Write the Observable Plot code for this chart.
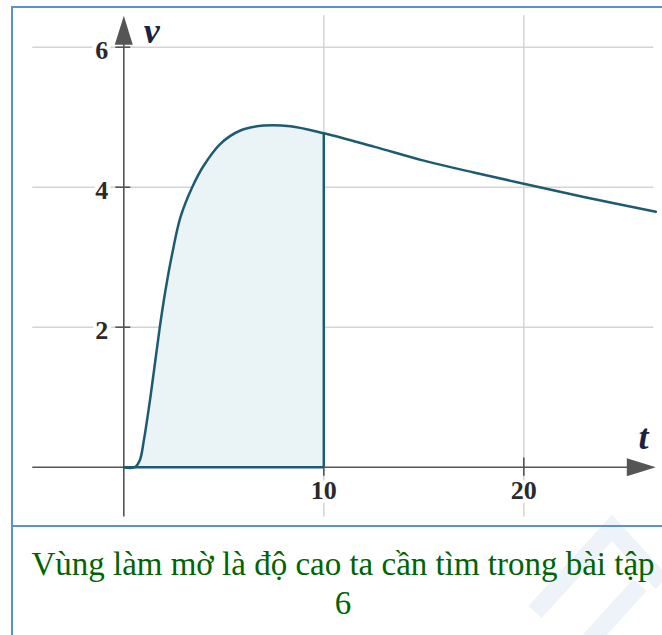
<!DOCTYPE html>
<html>
<head>
<meta charset="utf-8">
<script src="https://cdn.jsdelivr.net/npm/d3@7"></script>
<script src="https://cdn.jsdelivr.net/npm/@observablehq/plot@0.6"></script>
<style>
  body { margin: 0; background: #fff; }
  #wrap { position: relative; width: 662px; height: 635px; overflow: hidden; background: #fff; }
  #chart { position: absolute; left: 0; top: 0; }
  .frame { position: absolute; border-color: #5b8fd6; border-style: solid; border-width: 0; }
  #wm { position: absolute; left: 0; top: 0; }
  #caption { position: absolute; left: 12px; top: 545px; width: 662px; text-align: center;
    font-family: "Liberation Serif", "Times New Roman", Times, serif; font-size: 33px; line-height: 39px; color: #006400; }
</style>
</head>
<body>
<div id="wrap">
  <div id="chart"></div>
  <svg id="wm" width="662" height="635"><path d="M535,612 L612,528 L662,583 M590,640 L640,585" fill="none" stroke="#eef3fa" stroke-width="18"/></svg>
  <div class="frame" style="left:11px;top:6px;width:700px;height:700px;border-left-width:2px;border-top-width:2px;"></div>
  <div class="frame" style="left:11px;top:525px;width:700px;height:0;border-top-width:2px;"></div>
  <div id="caption">Vùng làm mờ là độ cao ta cần tìm trong bài tập<br>6</div>
</div>
<script>
// Curve v(t)
const tValues = [0, 0.55, 0.8, 1.0, 1.33, 1.8, 2.08, 2.42, 2.83, 3.42, 4.0, 4.83, 5.83, 7.0, 8.33, 10, 12.5, 15, 17.5, 20, 23, 26.6];
const vValues = [0, 0, 0.1, 0.38, 1.0, 2.0, 2.52, 3.05, 3.57, 4.0, 4.31, 4.62, 4.81, 4.88, 4.87, 4.77, 4.58, 4.38, 4.21, 4.05, 3.86, 3.65];
const shadeEnd = 10;
const xTicks = [10, 20];
const yTicks = [2, 4, 6];
const xTickLabels = ["10", "20"];
const yTickLabels = ["2", "4", "6"];
const xLabel = "t";
const yLabel = "v";
// axis extents (data units)
const xMin = -4.55, xMax = 26.5, xArrowTip = 26.6;
const yMin = -0.71, yMax = 6.45, yArrowTip = 6.45;

const data = tValues.map((t, i) => ({t, v: vValues[i]}));
const shaded = data.filter(d => d.t <= shadeEnd);
const vAtEnd = vValues[tValues.indexOf(shadeEnd)];

const curveColor = "#1d5b73";
const axisColor = "#555";
const gridColor = "#d4d4d4";
const labelFont = "'Liberation Serif', 'Times New Roman', Times, serif";

const arrowHead = {
  draw(ctx) {
    ctx.moveTo(0, 0);
    ctx.lineTo(-9, 29);
    ctx.lineTo(9, 29);
    ctx.closePath();
  }
};

const chart = Plot.plot({
  width: 662,
  height: 525,
  margin: 0,
  x: {domain: [0, 10], range: [123.3, 323.3], axis: null},
  y: {domain: [0, 6], range: [466.7, 46.7], axis: null},
  marks: [
    // grid
    Plot.ruleY(yTicks, {x1: xMin, x2: xMax, stroke: gridColor, strokeWidth: 1.5}),
    Plot.ruleX(xTicks, {y1: yMin, y2: yMax, stroke: gridColor, strokeWidth: 1.5}),
    // shaded region
    Plot.areaY(shaded, {x: "t", y: "v", fill: "#eaf3f6", curve: "catmull-rom"}),
    // axes
    Plot.ruleY([0], {x1: xMin, x2: xArrowTip - 1.2, stroke: axisColor, strokeWidth: 1.6}),
    Plot.ruleX([0], {y1: yMin, y2: yArrowTip - 0.3, stroke: axisColor, strokeWidth: 1.6}),
    Plot.dot([0], {x: xArrowTip, y: 0, symbol: arrowHead, fill: axisColor, stroke: null, rotate: 90}),
    Plot.dot([0], {x: 0, y: yArrowTip, symbol: arrowHead, fill: axisColor, stroke: null}),
    // ticks
    Plot.ruleY(yTicks, {x1: -0.4, x2: 0.35, stroke: axisColor, strokeWidth: 1.6}),
    Plot.ruleX(xTicks, {y1: -0.13, y2: 0.13, stroke: axisColor, strokeWidth: 1.6}),
    // shaded boundary
    Plot.ruleY([0], {x1: 0, x2: shadeEnd, stroke: curveColor, strokeWidth: 2.5}),
    Plot.ruleX([shadeEnd], {y1: 0, y2: vAtEnd, stroke: curveColor, strokeWidth: 2.5}),
    // curve
    Plot.line(data, {x: "t", y: "v", stroke: curveColor, strokeWidth: 2.5, curve: "catmull-rom"}),
    // tick labels
    Plot.text(yTicks, {x: -0.78, y: d => d, text: (d, i) => yTickLabels[i], textAnchor: "end", dy: 3,
      fontFamily: labelFont, fontWeight: "bold", fontSize: 26, fill: "#2a2a2a", stroke: "white", strokeWidth: 8}),
    Plot.text(xTicks, {x: d => d, y: 0, text: (d, i) => xTickLabels[i], dy: 23,
      fontFamily: labelFont, fontWeight: "bold", fontSize: 26, fill: "#2a2a2a", stroke: "white", strokeWidth: 8}),
    // axis labels
    Plot.text([yLabel], {x: 1.4, y: 6.22, text: d => d, fontFamily: labelFont, fontStyle: "italic",
      fontWeight: "bold", fontSize: 36, fill: "#1a2340"}),
    Plot.text([xLabel], {x: 25.98, y: 0.42, text: d => d, fontFamily: labelFont, fontStyle: "italic",
      fontWeight: "bold", fontSize: 36, fill: "#1a2340"})
  ]
});
document.getElementById("chart").appendChild(chart);
</script>
</body>
</html>
